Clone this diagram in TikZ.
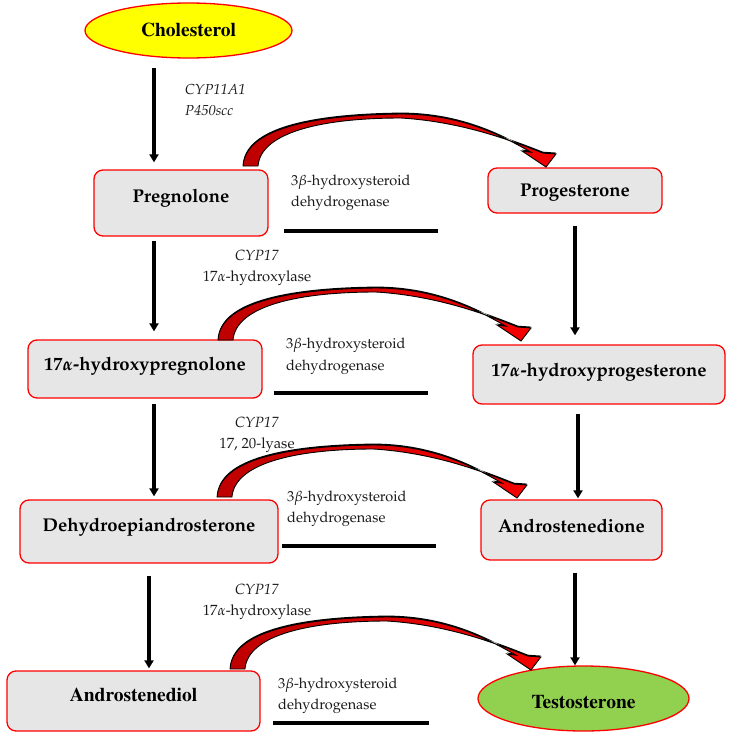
\documentclass[tikz,border=0pt]{standalone}
\usepackage[T1]{fontenc}
\usepackage{mathpazo}
\usetikzlibrary{shapes.geometric,arrows.meta,calc}
\definecolor{boxfill}{RGB}{231,230,230}
\definecolor{aredl}{RGB}{190,0,0}
\definecolor{aredr}{RGB}{245,0,0}
\definecolor{testogreen}{RGB}{146,208,80}
\definecolor{cholyellow}{RGB}{255,255,0}
\tikzset{
  box/.style={draw=red, line width=1.3pt, fill=boxfill, rounded corners=9pt, inner sep=0pt,
    font=\fontsize{18.5}{22}\selectfont\bfseries\boldmath, text height=12.8pt, text depth=12pt},
  oval/.style={ellipse, draw=red, line width=1.3pt, inner sep=0pt,
    font=\fontsize{19.5}{22}\fontfamily{ptm}\bfseries\selectfont, text height=12.9pt, text depth=0pt},
  enz/.style={inner sep=0pt, align=left, anchor=west, text=black!90, font=\fontsize{14.5}{21.5}\selectfont},
  cyp/.style={inner sep=0pt, align=center, text=black!90, font=\fontsize{14.8}{21.5}\selectfont},
  blk/.style={line width=3.2pt, -{Triangle[width=9pt,length=8pt]}},
  bar/.style={line width=4pt},
  curvarr/.pic={
    \fill[black, yshift=1.4pt] (-8,0) .. controls (-6,-37) and (60,-51) .. (150,-52)
      .. controls (212,-52) and (255,-28) .. (280,-13.8) -- (271,-15) -- (295,1) -- (305,-12) -- (292,-12.9)
      .. controls (266,-23) and (215,-44) .. (150,-48) .. controls (75,-48) and (10,-35) .. (7,0) -- cycle;
    \path[left color=aredl, right color=aredr, draw=black, line width=0.9pt, line join=miter]
      (-8,0) .. controls (-6,-37) and (60,-51) .. (150,-52)
      .. controls (212,-52) and (255,-28) .. (280,-13.8) -- (271,-15) -- (295,1) -- (305,-12) -- (292,-12.9)
      .. controls (266,-23) and (215,-44) .. (150,-48) .. controls (75,-48) and (10,-35) .. (7,0) -- cycle;
  }
}
\begin{document}
\begin{tikzpicture}[x=1pt,y=-1pt]
\useasboundingbox (0,0) rectangle (732,736);
% nodes
\node[oval, fill=cholyellow, minimum width=207pt, minimum height=55pt] (chol) at (188.5,30.5) {Cholesterol};
\node[box, minimum width=174pt, minimum height=66pt, text depth=13pt] (preg) at (181,203) {Pregnolone};
\node[box, minimum width=174pt, minimum height=45pt, text depth=0pt] (prog) at (575,190.5) {Progesterone};
\node[box, minimum width=234pt, minimum height=58pt, text depth=10pt] (hpreg) at (145,369) {17$\alpha$-hydroxypregnolone};
\node[box, minimum width=252pt, minimum height=59pt, text depth=9pt] (hprog) at (599,374.5) {17$\alpha$-hydroxyprogesterone};
\node[box, minimum width=258pt, minimum height=63pt] (dhea) at (149,531.5) {Dehydroepiandrosterone};
\node[box, minimum width=181pt, minimum height=60pt, text depth=8pt] (andro) at (571.5,530) {Androstenedione};
\node[box, minimum width=253pt, minimum height=60pt, font=\fontsize{19.5}{22}\fontfamily{ptm}\bfseries\selectfont, text height=12.9pt] (adiol) at (133.5,701) {Androstenediol};
\node[oval, fill=testogreen, minimum width=211pt, minimum height=65pt, text height=20.9pt] (testo) at (583.5,698.5) {Testosterone};
% labels
\node[enz] (c0) at (185,100) {\textit{CYP11A1}\\\textit{P450scc}};
\node[cyp] (c1) at (257,268) {\textit{CYP17}\\17$\alpha$-hydroxylase};
\node[cyp] (c2) at (257,435) {\textit{CYP17}\\17, 20-lyase};
\node[cyp] (c3) at (257,602) {\textit{CYP17}\\17$\alpha$-hydroxylase};
\node[enz] (e1) at (291,193) {3$\beta$-hydroxysteroid\\dehydrogenase};
\node[enz] (e2) at (286,356.5) {3$\beta$-hydroxysteroid\\dehydrogenase};
\node[enz] (e3) at (287,509) {3$\beta$-hydroxysteroid\\dehydrogenase};
\node[enz] (e4) at (278,696) {3$\beta$-hydroxysteroid\\dehydrogenase};
% bars
\draw[bar] (284,231) -- (438,231);
\draw[bar] (274,393) -- (428,393);
\draw[bar] (282,546) -- (436,546);
\draw[bar] (273,723) -- (429,723);
% straight arrows
\coordinate (xl) at (154,0);
\coordinate (xlb) at (149,0);
\coordinate (xr) at (575,0);
\coordinate (xrb) at (578,0);
\draw[blk, shorten <=9pt, shorten >=7pt] (chol.south -| xl) -- (preg.north -| xl);
\draw[blk, shorten <=4pt, shorten >=8pt] (preg.south -| xl) -- (hpreg.north -| xl);
\draw[blk, shorten <=5pt, shorten >=3pt] (hpreg.south -| xl) -- (dhea.north -| xl);
\draw[blk, shorten <=12pt, shorten >=2pt] (dhea.south -| xlb) -- (adiol.north -| xlb);
\draw[blk, shorten <=12pt, shorten >=9pt] (prog.south -| xr) -- (hprog.north -| xr);
\draw[blk, shorten <=9pt, shorten >=1pt] (hprog.south -| xrb) -- (andro.north -| xrb);
\draw[blk, shorten <=12pt, shorten >=0pt] (andro.south -| xr) -- (testo.north -| xr);
% curved arrows
\pic at (251,166) {curvarr};
\pic at (226,340) {curvarr};
\pic[xscale=0.99] at (225,497) {curvarr};
\pic[xscale=0.993] at (238,669) {curvarr};
\end{tikzpicture}
\end{document}
